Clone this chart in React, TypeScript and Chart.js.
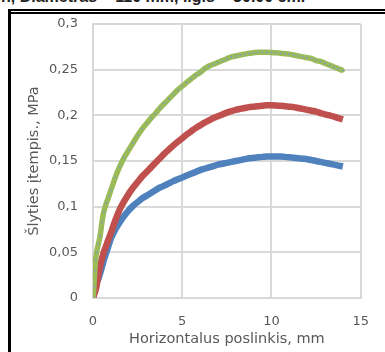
import React, { useEffect, useRef } from "react";
import { Chart, registerables } from "chart.js";

Chart.register(...registerables);

// Horizontal displacement, mm
const displacement = [
  0, 0.05, 0.1, 0.15, 0.2, 0.3, 0.4, 0.5, 0.6, 0.75, 0.9, 1.0, 1.25, 1.5, 1.75,
  2.0, 2.25, 2.5, 2.75, 3.0, 3.25, 3.5, 3.75, 4.0, 4.25, 4.5, 4.75, 5.0, 5.25,
  5.5, 5.75, 6.0, 6.25, 6.5, 6.75, 7.0, 7.25, 7.5, 7.75, 8.0, 8.25, 8.5, 8.75,
  9.0, 9.25, 9.5, 9.75, 10.0, 10.25, 10.5, 10.75, 11.0, 11.25, 11.5, 11.75,
  12.0, 12.25, 12.5, 12.75, 13.0, 13.25, 13.5, 13.75, 14.0,
];

// Shear stress, MPa
const stressBlue = [
  0, 0.005, 0.01, 0.014, 0.017, 0.021, 0.027, 0.034, 0.041, 0.05, 0.059, 0.065,
  0.075, 0.083, 0.09, 0.096, 0.101, 0.105, 0.109, 0.112, 0.115, 0.118, 0.121,
  0.123, 0.1255, 0.128, 0.130, 0.132, 0.134, 0.136, 0.138, 0.14, 0.1415, 0.143,
  0.1445, 0.146, 0.147, 0.148, 0.149, 0.15, 0.151, 0.152, 0.153, 0.1535, 0.154,
  0.1545, 0.155, 0.155, 0.155, 0.155, 0.1545, 0.154, 0.1535, 0.153, 0.1525,
  0.152, 0.151, 0.15, 0.149, 0.148, 0.147, 0.146, 0.145, 0.144,
];

const stressRed = [
  0, 0.003, 0.006, 0.009, 0.013, 0.025, 0.035, 0.043, 0.05, 0.058, 0.066, 0.071,
  0.085, 0.097, 0.106, 0.114, 0.121, 0.127, 0.133, 0.138, 0.143, 0.148, 0.153,
  0.158, 0.1625, 0.167, 0.171, 0.175, 0.179, 0.1825, 0.186, 0.189, 0.192, 0.1945,
  0.197, 0.199, 0.201, 0.203, 0.2045, 0.206, 0.207, 0.208, 0.209, 0.2095, 0.21,
  0.2105, 0.211, 0.211, 0.2108, 0.2105, 0.21, 0.2095, 0.209, 0.208, 0.207, 0.206,
  0.205, 0.204, 0.2025, 0.201, 0.2, 0.1985, 0.197, 0.1955,
];

const stressGreen = [
  0, 0.012, 0.03, 0.042, 0.05, 0.059, 0.068, 0.083, 0.094, 0.104, 0.112, 0.118,
  0.132, 0.144, 0.154, 0.162, 0.17, 0.178, 0.185, 0.191, 0.197, 0.202, 0.208,
  0.213, 0.218, 0.223, 0.228, 0.232, 0.236, 0.24, 0.244, 0.247, 0.251, 0.254,
  0.256, 0.258, 0.26, 0.262, 0.264, 0.265, 0.266, 0.267, 0.268, 0.2685, 0.269,
  0.269, 0.269, 0.2688, 0.2685, 0.268, 0.2675, 0.267, 0.266, 0.265, 0.264, 0.263,
  0.262, 0.26, 0.259, 0.257, 0.255, 0.253, 0.251, 0.249,
];

const xTickValues = [0, 5, 10, 15];
const yTickValues = [0, 0.05, 0.1, 0.15, 0.2, 0.25, 0.3];

const xTitle = "Horizontalus poslinkis, mm";
const yTitle = "Šlyties įtempis., MPa";
const topText = "n, Diametras = 110 mm, ilgis = 30.00 cm.";

const BLUE = "#4f81bd";
const RED = "#c0504d";
const GREEN = "#9bbb59";
const GRID = "#d9d9d9";
const TEXT = "#595959";

function pts(ys: number[]) {
  return displacement.map((x, i) => ({ x, y: ys[i] }));
}

function fmt(v: number) {
  const r = Math.round(v * 100) / 100;
  return String(r).replace(".", ",");
}

export default function App() {
  const ref = useRef<HTMLCanvasElement | null>(null);

  useEffect(() => {
    if (!ref.current) return;
    const chart = new Chart(ref.current, {
      type: "scatter",
      data: {
        datasets: [
          {
            label: "S3",
            data: pts(stressGreen),
            showLine: true,
            cubicInterpolationMode: "monotone",
            borderColor: GREEN,
            borderWidth: 5.5,
            pointRadius: 1.5,
            pointBorderWidth: 1.2,
            pointBorderColor: GREEN,
            pointBackgroundColor: "#7d9bc9",
            order: 0,
          },
          {
            label: "S2",
            data: pts(stressRed),
            showLine: true,
            cubicInterpolationMode: "monotone",
            borderColor: RED,
            borderWidth: 6.5,
            pointRadius: 0,
            order: 1,
          },
          {
            label: "S1",
            data: pts(stressBlue),
            showLine: true,
            cubicInterpolationMode: "monotone",
            borderColor: BLUE,
            borderWidth: 6.5,
            pointRadius: 0,
            order: 2,
          },
        ],
      },
      options: {
        animation: false,
        responsive: false,
        devicePixelRatio: 1,
        layout: { padding: { left: 14, top: 24, right: 13, bottom: 0 } },
        plugins: {
          legend: { display: false },
          tooltip: { enabled: false },
          title: { display: false },
        },
        scales: {
          x: {
            type: "linear",
            min: 0,
            max: 15,
            afterBuildTicks: (s: any) => {
              s.ticks = xTickValues.map((v) => ({ value: v }));
            },
            afterFit: (s: any) => {
              s.height = 54;
            },
            grid: { color: GRID, lineWidth: 2, drawTicks: false },
            border: { color: GRID, width: 2 },
            ticks: {
              padding: 16,
              color: TEXT,
              font: { family: "DejaVu Sans", size: 13 },
              callback: (v: any) => fmt(Number(v)),
            },
            title: {
              display: true,
              text: xTitle,
              color: TEXT,
              font: { family: "DejaVu Sans", size: 14.5 },
              padding: { top: 0, bottom: 4.3 },
            },
          },
          y: {
            type: "linear",
            min: 0,
            max: 0.3,
            afterBuildTicks: (s: any) => {
              s.ticks = yTickValues.map((v) => ({ value: v }));
            },
            afterFit: (s: any) => {
              s.width = 79;
            },
            grid: { color: GRID, lineWidth: 2, drawTicks: false },
            border: { color: GRID, width: 2 },
            ticks: {
              padding: 15,
              color: TEXT,
              font: { family: "DejaVu Sans", size: 13 },
              callback: (v: any) => fmt(Number(v)),
            },
            title: {
              display: true,
              text: yTitle,
              color: TEXT,
              font: { family: "DejaVu Sans", size: 14.5 },
              padding: { top: 11.3, bottom: 0 },
            },
          },
        },
      },
    });
    return () => chart.destroy();
  }, []);

  return (
    <div
      style={{
        position: "fixed",
        left: 0,
        top: 0,
        width: 385,
        height: 352,
        background: "#fff",
        overflow: "hidden",
      }}
    >
      <div
        style={{
          position: "absolute",
          left: 1,
          top: -11,
          whiteSpace: "nowrap",
          fontFamily: "'Liberation Sans', Arial, sans-serif",
          fontWeight: "bold",
          fontSize: 16,
          lineHeight: "16px",
          color: "#222",
        }}
      >
        {topText}
      </div>
      <canvas
        ref={ref}
        width={385}
        height={352}
        style={{ position: "absolute", left: 0, top: 0, width: 385, height: 352 }}
      />
      <div style={{ position: "absolute", left: 8, top: 9, width: 377, height: 2, background: "#000" }} />
      <div style={{ position: "absolute", left: 8, top: 12, width: 377, height: 2, background: "#000" }} />
      <div style={{ position: "absolute", left: 8, top: 9, width: 3, height: 343, background: "#000" }} />
    </div>
  );
}
